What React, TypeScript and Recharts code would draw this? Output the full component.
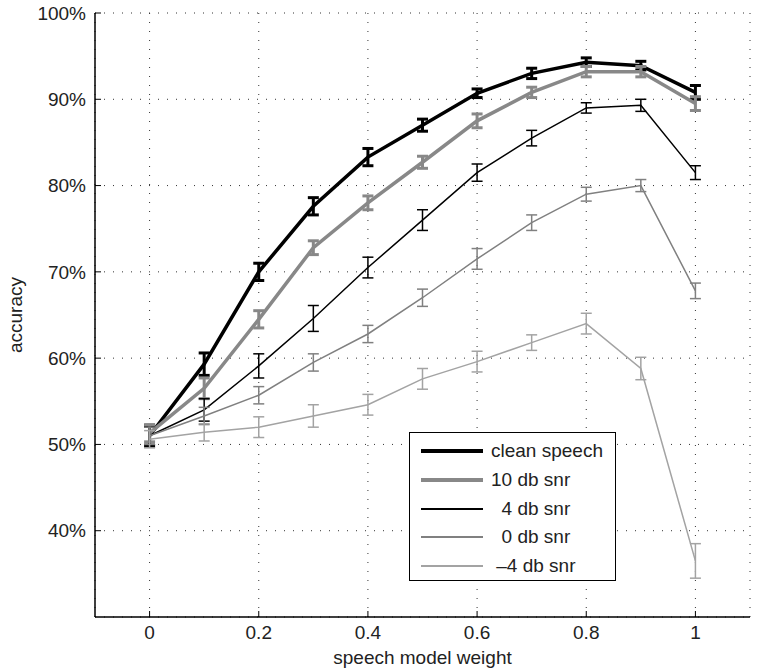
import { LineChart, Line, XAxis, YAxis, CartesianGrid, ErrorBar, Legend, Label } from "recharts";

const WEIGHTS = [0, 0.1, 0.2, 0.3, 0.4, 0.5, 0.6, 0.7, 0.8, 0.9, 1];

const CLEAN = [51.0, 59.3, 70.0, 77.6, 83.3, 87.0, 90.7, 93.0, 94.3, 93.9, 90.8];
const CLEAN_ERR = [1.2, 1.3, 1.0, 1.0, 1.0, 0.7, 0.5, 0.6, 0.5, 0.5, 0.8];

const SNR10 = [51.3, 56.5, 64.5, 72.8, 78.0, 82.7, 87.5, 90.8, 93.2, 93.2, 89.5];
const SNR10_ERR = [1.0, 1.2, 1.0, 0.8, 0.8, 0.7, 0.8, 0.6, 0.6, 0.6, 0.8];

const SNR4 = [51.0, 54.0, 59.1, 64.6, 70.5, 76.0, 81.5, 85.5, 89.0, 89.3, 81.5];
const SNR4_ERR = [1.0, 1.3, 1.4, 1.5, 1.2, 1.2, 1.0, 0.9, 0.6, 0.7, 0.8];

const SNR0 = [51.0, 53.3, 55.7, 59.5, 62.8, 67.0, 71.5, 75.7, 79.0, 80.0, 67.8];
const SNR0_ERR = [1.0, 1.0, 1.0, 1.0, 1.0, 1.0, 1.2, 0.9, 0.8, 0.7, 0.9];

const SNRM4 = [50.6, 51.4, 52.0, 53.3, 54.6, 57.6, 59.6, 61.8, 64.0, 58.8, 36.5];
const SNRM4_ERR = [1.0, 1.0, 1.2, 1.3, 1.2, 1.2, 1.2, 0.9, 1.2, 1.3, 2.0];

const X_TICKS = [0, 0.2, 0.4, 0.6, 0.8, 1];
const Y_TICKS = [40, 50, 60, 70, 80, 90, 100];

const SERIES = [
  { key: "clean", label: "clean speech", values: CLEAN, errs: CLEAN_ERR, color: "#000000", width: 3.5, errWidth: 3 },
  { key: "snr10", label: "10 db snr", values: SNR10, errs: SNR10_ERR, color: "#888888", width: 3.5, errWidth: 3 },
  { key: "snr4", label: "  4 db snr", values: SNR4, errs: SNR4_ERR, color: "#000000", width: 1.5, errWidth: 1.5 },
  { key: "snr0", label: "  0 db snr", values: SNR0, errs: SNR0_ERR, color: "#808080", width: 1.5, errWidth: 1.5 },
  { key: "snrm4", label: " \u20134 db snr", values: SNRM4, errs: SNRM4_ERR, color: "#a3a3a3", width: 1.5, errWidth: 1.5 },
];

const FONT = "'Liberation Sans', Arial, sans-serif";

const data = WEIGHTS.map((w, i) => {
  const row: Record<string, number> = { w };
  for (const s of SERIES) {
    row[s.key] = s.values[i];
    row[`${s.key}Err`] = s.errs[i];
  }
  return row;
});

function BoxLegend() {
  return (
    <div
      style={{
        width: 207,
        height: 149,
        border: "1.5px solid #000",
        background: "#fff",
        paddingTop: 4,
        boxSizing: "border-box",
        fontFamily: FONT,
        fontSize: 19,
        color: "#222",
      }}
    >
      {SERIES.map((s) => (
        <div key={s.key} style={{ display: "flex", alignItems: "center", height: 28.7 }}>
          <svg width={81} height={10} style={{ flex: "none" }}>
            <line x1={11} x2={73} y1={5} y2={5} stroke={s.color} strokeWidth={s.width + 0.5} />
          </svg>
          <span style={{ whiteSpace: "pre" }}>{s.label}</span>
        </div>
      ))}
    </div>
  );
}

export default function App() {
  const tickStyle = { fontSize: 19, fill: "#222", fontFamily: FONT };
  return (
    <div style={{ position: "absolute", left: 0, top: 0, background: "#fff" }}>
      <LineChart width={759} height={670} data={data} margin={{ top: 13, right: 9, bottom: 0, left: 0 }}>
        <CartesianGrid stroke="#333" strokeDasharray="1 8" />
        <XAxis
          dataKey="w"
          type="number"
          domain={[-0.1, 1.1]}
          ticks={X_TICKS}
          height={53}
          tick={tickStyle}
          tickSize={-6}
          tickMargin={15}
          stroke="#000"
          axisLine={{ stroke: "#000", strokeWidth: 1.5 }}
        >
          <Label value="speech model weight" position="insideBottom" offset={6} style={{ fontSize: 19, fill: "#222", fontFamily: FONT }} />
        </XAxis>
        <XAxis
          xAxisId="top"
          orientation="top"
          dataKey="w"
          type="number"
          domain={[-0.1, 1.1]}
          ticks={X_TICKS}
          height={0}
          tick={false}
          tickSize={-6}
          stroke="#000"
          axisLine={{ stroke: "#000", strokeWidth: 1.5 }}
        />
        <YAxis
          type="number"
          domain={[30, 100]}
          ticks={Y_TICKS}
          width={95}
          tick={tickStyle}
          tickFormatter={(v: number) => `${v}%`}
          tickSize={-6}
          tickMargin={15}
          stroke="#000"
          axisLine={{ stroke: "#000", strokeWidth: 1.5 }}
        >
          <Label value="accuracy" angle={-90} position="insideLeft" offset={15} style={{ fontSize: 19, fill: "#222", fontFamily: FONT, textAnchor: "middle" }} />
        </YAxis>
        <YAxis
          yAxisId="right"
          orientation="right"
          type="number"
          domain={[30, 100]}
          ticks={Y_TICKS}
          width={0}
          tick={false}
          tickSize={-6}
          stroke="#000"
          axisLine={{ stroke: "#000", strokeWidth: 1.5 }}
        />
        <Legend
          layout="vertical"
          align="center"
          verticalAlign="middle"
          wrapperStyle={{ left: 409, top: 432, width: "auto", height: "auto" }}
          content={() => <BoxLegend />}
        />
        {SERIES.map((s) => (
          <Line
            key={s.key}
            dataKey={s.key}
            type="linear"
            stroke={s.color}
            strokeWidth={s.width}
            dot={false}
            activeDot={false}
            isAnimationActive={false}
          >
            <ErrorBar dataKey={`${s.key}Err`} width={5.5} stroke={s.color} strokeWidth={s.errWidth} direction="y" />
          </Line>
        ))}
      </LineChart>
    </div>
  );
}
